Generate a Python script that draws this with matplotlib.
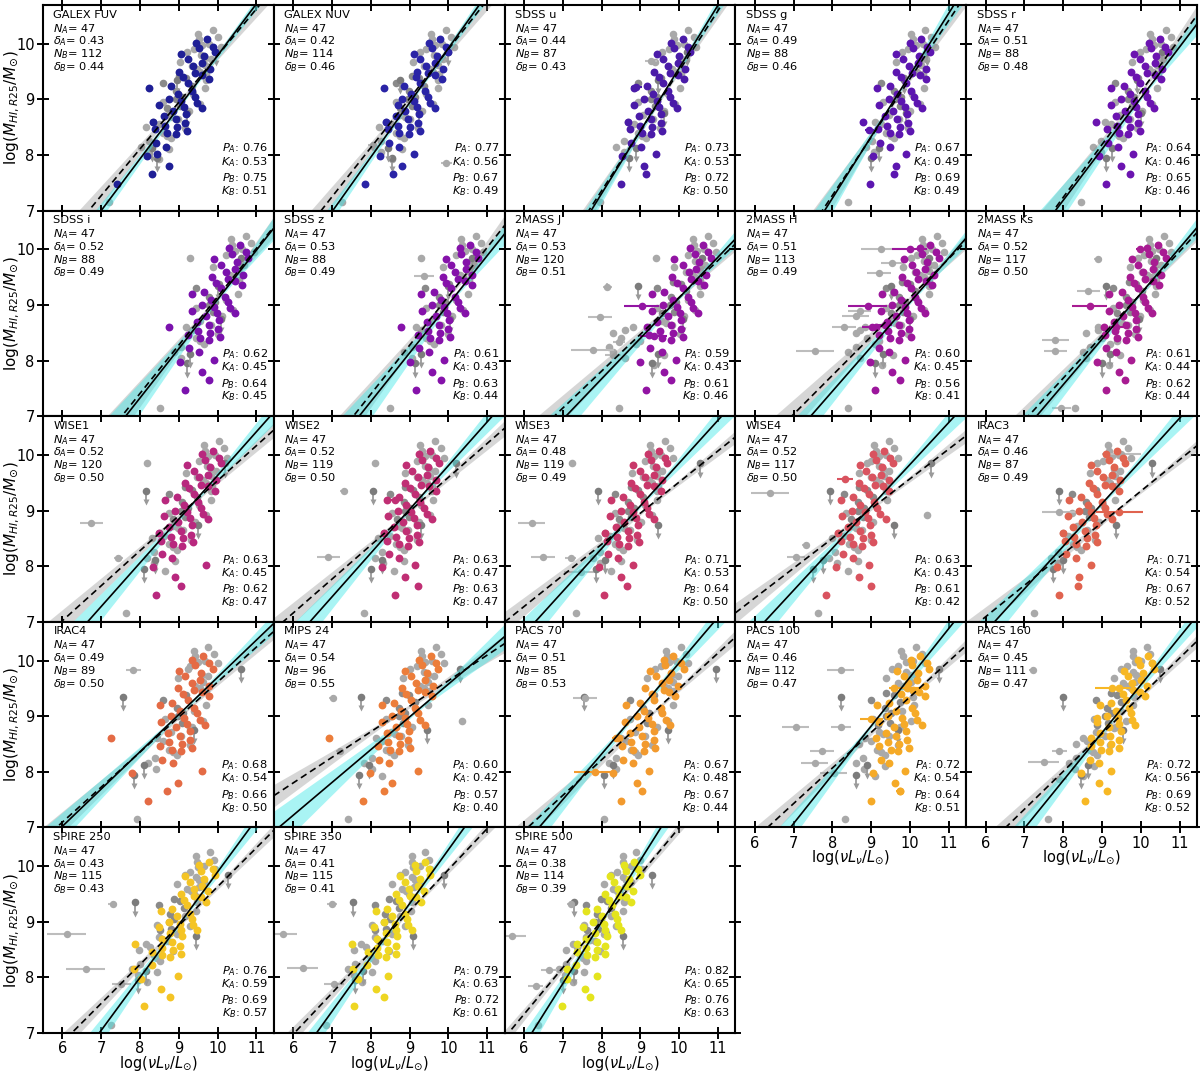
import numpy as np
import matplotlib
matplotlib.use('Agg')
import matplotlib.pyplot as plt

# ---------------- panel metadata ----------------
PANELS = ['GALEX FUV', 'GALEX NUV', 'SDSS u', 'SDSS g', 'SDSS r',
          'SDSS i', 'SDSS z', '2MASS J', '2MASS H', '2MASS Ks',
          'WISE1', 'WISE2', 'WISE3', 'WISE4', 'IRAC3',
          'IRAC4', 'MIPS 24', 'PACS 70', 'PACS 100', 'PACS 160',
          'SPIRE 250', 'SPIRE 350', 'SPIRE 500']
COLORS = ['#1f1f96', '#2a24a6', '#4a1ba8', '#5c16b0', '#6b14b0',
          '#7a12ad', '#8512aa', '#9214a3', '#9c169c', '#a81c92',
          '#b8287e', '#c02f74', '#c9386a', '#d9535f', '#e0634f',
          '#e46b45', '#ec7d3a', '#f29a2e', '#f5aa27', '#f7b825',
          '#f4c425', '#eed622', '#e4e41e']
N_A = [47] * 23
DELTA_A = [0.43, 0.42, 0.44, 0.49, 0.51, 0.52, 0.53, 0.53, 0.51, 0.52,
           0.52, 0.52, 0.48, 0.52, 0.46, 0.49, 0.54, 0.51, 0.46, 0.45,
           0.43, 0.41, 0.38]
N_B = [112, 114, 87, 88, 88, 88, 88, 120, 113, 117,
       120, 119, 119, 117, 87, 89, 96, 85, 112, 111,
       115, 115, 114]
DELTA_B = [0.44, 0.46, 0.43, 0.46, 0.48, 0.49, 0.49, 0.51, 0.49, 0.50,
           0.50, 0.50, 0.49, 0.50, 0.49, 0.50, 0.55, 0.53, 0.47, 0.47,
           0.43, 0.41, 0.39]
P_A = [0.76, 0.77, 0.73, 0.67, 0.64, 0.62, 0.61, 0.59, 0.60, 0.61,
       0.63, 0.63, 0.71, 0.63, 0.71, 0.68, 0.60, 0.67, 0.72, 0.72,
       0.76, 0.79, 0.82]
K_A = [0.53, 0.56, 0.53, 0.49, 0.46, 0.45, 0.43, 0.43, 0.45, 0.44,
       0.45, 0.47, 0.53, 0.43, 0.54, 0.54, 0.42, 0.48, 0.54, 0.56,
       0.59, 0.63, 0.65]
P_B = [0.75, 0.67, 0.72, 0.69, 0.65, 0.64, 0.63, 0.61, 0.56, 0.62,
       0.62, 0.63, 0.64, 0.61, 0.67, 0.66, 0.57, 0.67, 0.64, 0.69,
       0.69, 0.72, 0.76]
K_B = [0.51, 0.49, 0.50, 0.49, 0.46, 0.45, 0.44, 0.46, 0.41, 0.44,
       0.47, 0.47, 0.50, 0.42, 0.52, 0.50, 0.40, 0.44, 0.51, 0.52,
       0.57, 0.61, 0.63]

# fits: x where line crosses log M = 7, and slope
FIT_A_XB = [7.00, 7.02, 7.73, 7.80, 7.80, 7.63, 7.70, 7.08, 7.44, 7.31,
            6.65, 6.43, 6.29, 6.25, 6.23, 5.97, 5.63, 6.39, 6.92, 7.02,
            6.95, 6.60, 6.20]
FIT_A_M = [0.93, 0.98, 1.13, 1.11, 0.92, 0.886, 0.875, 0.73, 0.80, 0.82,
           0.786, 0.787, 0.77, 0.755, 0.768, 0.67, 0.59, 0.82, 0.877, 0.86,
           0.95, 0.97, 1.11]
FIT_B_XB = [6.68, 6.72, 7.67, 7.74, 7.75, 7.53, 7.55, 6.78, 6.95, 7.10,
            5.97, 5.74, 5.51, 5.20, 5.84, 5.85, 4.26, 6.10, 6.33, 6.52,
            6.24, 6.03, 5.60]
FIT_B_M = [0.84, 0.885, 1.08, 1.05, 0.95, 0.87, 0.88, 0.664, 0.70, 0.76,
           0.63, 0.61, 0.56, 0.536, 0.565, 0.63, 0.46, 0.64, 0.64, 0.68,
           0.70, 0.74, 0.84]
BAND_A = [0.06, 0.07, 0.10, 0.14, 0.14, 0.14, 0.14, 0.10, 0.10, 0.11,
          0.10, 0.10, 0.10, 0.10, 0.10, 0.08, 0.10, 0.10, 0.10, 0.10,
          0.10, 0.10, 0.12]
BAND_B = [0.08, 0.09, 0.09, 0.12, 0.12, 0.12, 0.12, 0.08, 0.09, 0.09,
          0.06, 0.06, 0.05, 0.05, 0.05, 0.06, 0.06, 0.06, 0.06, 0.06,
          0.05, 0.05, 0.05]

# ---------------- sample A (coloured) ----------------
Y_A = [10.08, 10.02, 9.95, 9.92, 9.85, 9.82, 9.78, 9.72, 9.65, 9.60,
       9.55, 9.50, 9.47, 9.44, 9.40, 9.36, 9.30, 9.24, 9.20, 9.15,
       9.10, 9.05, 9.00, 8.97, 8.94, 8.90, 8.86, 8.80, 8.74, 8.70,
       8.64, 8.60, 8.57, 8.53, 8.50, 8.46, 8.43, 8.40, 8.37, 8.22,
       8.15, 8.02, 7.98, 7.80, 7.65, 7.48, 8.85]

XA_FUV = [9.74, 9.45, 9.88, 9.52, 9.94, 9.07, 9.65, 9.23, 9.61, 9.37,
          9.81, 9.01, 9.42, 9.61, 9.12, 9.78, 9.23, 8.81, 8.22, 9.35,
          8.98, 9.42, 8.75, 9.07, 9.48, 8.48, 9.14, 8.84, 9.19, 8.61,
          8.92, 8.34, 9.17, 8.64, 8.96, 8.39, 9.22, 8.69, 8.93, 8.41,
          8.67, 8.45, 8.18, 8.75, 8.30, 7.42, 9.60]
XA_NUV = [9.79, 9.50, 9.93, 9.57, 9.99, 9.12, 9.70, 9.28, 9.66, 9.42,
          9.86, 9.20, 9.47, 9.66, 9.17, 9.83, 9.28, 8.86, 8.35, 9.40,
          9.03, 9.47, 8.80, 9.12, 9.53, 8.70, 9.19, 8.89, 9.24, 8.66,
          8.97, 8.39, 9.22, 8.69, 9.01, 8.44, 9.27, 8.74, 8.98, 8.46,
          8.72, 9.11, 8.23, 8.80, 8.58, 7.86, 9.65]
XA_U = [10.09, 9.80, 10.23, 9.87, 10.29, 9.42, 10.00, 9.58, 9.96, 9.72,
        10.16, 9.36, 9.77, 9.96, 9.47, 10.13, 9.58, 9.16, 8.84, 9.70,
        9.33, 9.77, 9.10, 9.42, 9.83, 8.83, 9.49, 9.19, 9.54, 8.96,
        9.27, 8.69, 9.52, 8.99, 9.31, 8.74, 9.57, 9.04, 9.28, 8.76,
        9.02, 9.41, 8.53, 9.10, 9.14, 8.50, 9.95]
XA_G = [10.28, 10.00, 10.43, 10.08, 10.52, 9.65, 10.23, 9.82, 10.21, 9.98,
        10.42, 9.63, 10.05, 10.25, 9.76, 10.42, 9.89, 9.48, 9.16, 10.03,
        9.67, 10.11, 9.45, 9.78, 10.19, 9.19, 9.86, 9.57, 9.93, 9.36,
        9.67, 8.80, 9.94, 9.41, 9.74, 9.17, 10.00, 9.48, 9.72, 9.23,
        9.49, 9.90, 9.04, 9.63, 9.60, 8.97, 10.32]
XA_R = [10.49, 10.20, 10.63, 10.27, 10.69, 9.82, 10.40, 9.98, 10.36, 10.12,
        10.56, 9.76, 10.17, 10.36, 9.87, 10.53, 9.98, 9.56, 9.24, 10.10,
        9.73, 10.17, 9.50, 9.82, 10.23, 9.23, 9.89, 9.59, 9.94, 9.36,
        9.67, 8.85, 9.92, 9.39, 9.71, 9.14, 9.97, 9.44, 9.68, 9.16,
        9.42, 9.81, 8.93, 9.50, 9.72, 9.11, 10.35]
XA_I = [10.59, 10.30, 10.73, 10.37, 10.79, 9.92, 10.50, 10.08, 10.46, 10.22,
        10.66, 9.86, 10.27, 10.46, 9.97, 10.63, 10.08, 9.66, 9.34, 10.20,
        9.83, 10.27, 9.60, 9.92, 10.33, 9.33, 9.99, 9.69, 10.04, 9.46,
        9.77, 8.75, 10.02, 9.49, 9.81, 9.24, 10.07, 9.54, 9.78, 9.26,
        9.52, 9.91, 9.03, 9.60, 9.79, 9.17, 10.45]
XA_Z = [10.55, 10.30, 10.70, 10.33, 10.76, 9.95, 10.46, 10.06, 10.45, 10.18,
        10.62, 9.85, 10.25, 10.44, 9.95, 10.60, 10.06, 9.62, 9.30, 10.18,
        9.80, 10.25, 9.58, 9.90, 10.30, 9.31, 9.97, 9.67, 10.02, 9.44,
        9.75, 8.78, 10.00, 9.47, 9.79, 9.22, 10.05, 9.52, 9.76, 9.24,
        9.50, 9.89, 9.01, 9.58, 9.81, 9.17, 10.43]
XA_J = [10.62, 10.28, 10.75, 10.40, 10.82, 9.88, 10.52, 10.10, 10.44, 10.25,
        10.68, 9.82, 10.30, 10.48, 9.95, 10.65, 10.10, 9.62, 9.30, 10.22,
        9.85, 10.30, 9.58, 9.95, 10.35, 9.30, 10.02, 9.70, 10.06, 9.44,
        9.80, 9.16, 10.05, 9.50, 9.84, 9.22, 10.10, 9.56, 9.80, 9.24,
        9.55, 9.93, 9.00, 9.62, 9.79, 9.14, 10.48]
XA_H = [10.52, 10.26, 10.66, 10.30, 10.76, 9.85, 10.44, 10.05, 10.40, 10.16,
        10.62, 9.80, 10.21, 10.42, 9.92, 10.58, 10.02, 9.60, 9.28, 10.14,
        9.77, 10.22, 9.55, 9.86, 10.28, 9.26, 9.93, 9.63, 9.98, 9.40,
        9.71, 9.12, 9.97, 9.44, 9.76, 9.20, 10.02, 9.49, 9.72, 9.20,
        9.46, 9.86, 8.98, 9.55, 9.75, 9.10, 10.40]
XA_KS = [10.44, 10.15, 10.58, 10.22, 10.64, 9.77, 10.35, 9.93, 10.31, 10.07,
         10.51, 9.71, 10.12, 10.31, 9.82, 10.48, 9.93, 9.51, 9.19, 10.05,
         9.68, 10.12, 9.45, 9.77, 10.18, 9.18, 9.84, 9.54, 9.89, 9.31,
         9.62, 9.04, 9.87, 9.34, 9.66, 9.09, 9.92, 9.39, 9.63, 9.11,
         9.37, 9.76, 8.88, 9.45, 9.60, 9.11, 10.30]
XA_W1 = [9.89, 9.60, 10.03, 9.67, 10.09, 9.22, 9.80, 9.38, 9.76, 9.52,
         9.96, 9.16, 9.57, 9.76, 9.27, 9.93, 9.38, 8.96, 8.64, 9.50,
         9.13, 9.57, 8.90, 9.22, 9.63, 8.63, 9.29, 8.99, 9.34, 8.76,
         9.07, 8.49, 9.32, 8.79, 9.11, 8.54, 9.37, 8.84, 9.08, 8.56,
         8.82, 9.70, 8.33, 8.90, 9.05, 8.42, 9.75]
XA_W2 = [9.53, 9.25, 9.68, 9.33, 9.77, 8.90, 9.48, 9.07, 9.46, 9.23,
         9.67, 8.88, 9.30, 9.50, 9.01, 9.67, 9.14, 8.73, 8.41, 9.28,
         8.92, 9.36, 8.70, 9.03, 9.44, 8.44, 9.11, 8.82, 9.18, 8.61,
         8.92, 8.35, 9.19, 8.66, 8.99, 8.42, 9.25, 8.73, 8.97, 8.48,
         8.74, 9.15, 8.29, 8.88, 9.22, 8.62, 9.57]
XA_W3 = [9.49, 9.20, 9.63, 9.27, 9.69, 8.82, 9.40, 8.98, 9.36, 9.12,
         9.56, 8.76, 9.17, 9.36, 8.87, 9.53, 8.98, 8.56, 8.24, 9.10,
         8.73, 9.17, 8.50, 8.82, 9.23, 8.23, 8.89, 8.59, 8.94, 8.36,
         8.67, 8.09, 8.92, 8.39, 8.71, 8.14, 8.97, 8.44, 8.68, 8.16,
         8.42, 8.81, 7.93, 8.50, 8.65, 8.06, 9.35]
XA_W4 = [9.33, 9.05, 9.48, 9.13, 9.57, 8.70, 9.28, 8.87, 9.26, 9.03,
         9.47, 8.68, 9.10, 9.30, 8.81, 9.47, 8.94, 8.53, 8.21, 9.08,
         8.72, 9.16, 8.50, 8.83, 9.24, 8.24, 8.91, 8.62, 8.98, 8.41,
         8.72, 8.15, 8.99, 8.46, 8.79, 8.22, 9.05, 8.53, 8.77, 8.28,
         8.54, 8.95, 8.09, 8.68, 9.00, 7.83, 9.37]
XA_IRAC3 = [9.39, 9.10, 9.53, 9.17, 9.59, 8.72, 9.30, 8.88, 9.26, 9.02,
            9.46, 8.66, 9.07, 9.26, 8.77, 9.43, 8.88, 8.46, 8.14, 9.00,
            8.63, 9.07, 8.40, 8.72, 9.13, 8.13, 8.79, 8.49, 8.84, 8.26,
            8.57, 7.99, 8.82, 8.29, 8.61, 8.04, 8.87, 8.34, 8.58, 8.06,
            8.32, 8.71, 7.83, 8.40, 8.39, 7.90, 9.25]
XA_IRAC4 = [9.63, 9.35, 9.78, 9.43, 9.87, 9.00, 9.58, 9.17, 9.56, 9.33,
            9.77, 8.98, 9.40, 9.60, 9.11, 9.77, 9.24, 8.83, 8.51, 9.38,
            9.02, 9.46, 8.80, 9.13, 9.54, 8.54, 9.21, 8.92, 9.28, 8.71,
            9.02, 7.25, 9.29, 8.76, 9.09, 8.52, 9.35, 8.83, 9.07, 8.58,
            8.84, 9.60, 7.80, 8.98, 8.70, 8.20, 9.67]
XA_MIPS = [9.54, 9.25, 9.68, 9.32, 9.74, 8.87, 9.45, 9.03, 9.41, 9.17,
           9.61, 8.81, 9.22, 9.41, 8.92, 9.58, 9.03, 8.61, 8.29, 9.15,
           8.78, 9.22, 8.55, 8.87, 9.28, 8.28, 8.94, 8.64, 8.99, 8.41,
           8.72, 6.92, 8.97, 8.44, 8.76, 8.19, 9.02, 8.49, 8.73, 8.21,
           8.47, 9.22, 7.98, 8.55, 8.35, 7.80, 9.40]
XA_PACS70 = [9.85, 9.62, 10.05, 9.64, 10.12, 9.25, 9.78, 9.40, 9.74, 9.55,
             9.98, 9.13, 9.60, 9.74, 9.30, 9.90, 9.36, 8.98, 8.62, 9.52,
             9.10, 9.55, 8.92, 9.20, 9.65, 8.60, 9.31, 8.97, 9.36, 8.74,
             9.05, 8.45, 9.34, 8.77, 9.13, 8.52, 9.39, 8.82, 9.10, 8.54,
             8.80, 9.23, 8.30, 8.92, 9.04, 8.50, 9.77]
XA_PACS100 = [10.26, 10.02, 10.45, 10.06, 10.50, 9.67, 10.21, 9.84, 10.19, 9.96,
              10.40, 9.60, 10.07, 10.23, 9.78, 10.40, 9.91, 9.46, 9.14, 10.05,
              9.65, 10.13, 9.43, 9.80, 10.17, 9.21, 9.84, 9.59, 9.91, 9.38,
              9.65, 9.12, 9.92, 9.43, 9.72, 9.19, 9.98, 9.50, 9.70, 9.25,
              9.47, 9.88, 9.06, 9.61, 9.75, 9.00, 10.30]
XA_PACS160 = [10.19, 9.93, 10.29, 9.97, 10.33, 9.56, 10.06, 9.68, 10.01, 9.78,
              10.16, 9.45, 9.80, 9.97, 9.53, 10.10, 9.61, 9.23, 8.94, 9.69,
              9.36, 9.74, 9.14, 9.42, 9.77, 8.88, 9.45, 9.18, 9.48, 8.96,
              9.22, 8.71, 9.44, 8.96, 9.24, 8.72, 9.45, 8.98, 9.18, 8.70,
              8.92, 9.24, 8.46, 8.93, 9.13, 8.55, 9.86]
XA_S250 = [9.79, 9.53, 9.89, 9.57, 9.93, 9.16, 9.66, 9.28, 9.61, 9.38,
           9.76, 9.05, 9.40, 9.57, 9.13, 9.70, 9.21, 8.83, 8.54, 9.29,
           8.96, 9.34, 8.74, 9.02, 9.37, 8.48, 9.05, 8.78, 9.08, 8.56,
           8.82, 7.87, 9.04, 8.56, 8.84, 8.32, 9.05, 8.58, 8.78, 8.30,
           7.85, 8.98, 8.03, 8.53, 8.78, 8.10, 9.46]
XA_S350 = [9.39, 9.13, 9.49, 9.17, 9.53, 8.76, 9.26, 8.88, 9.21, 8.98,
           9.36, 8.65, 9.00, 9.17, 8.73, 9.30, 8.81, 8.43, 8.14, 8.89,
           8.56, 8.94, 8.34, 8.62, 8.97, 8.08, 8.65, 8.38, 8.68, 8.16,
           8.42, 7.52, 8.64, 8.16, 8.44, 7.92, 8.65, 8.18, 8.38, 7.90,
           7.55, 8.44, 7.66, 8.13, 8.33, 7.56, 9.06]
XA_S500 = [8.84, 8.58, 8.94, 8.62, 8.98, 8.21, 8.71, 8.33, 8.66, 8.43,
           8.81, 8.10, 8.45, 8.62, 8.18, 8.75, 8.26, 7.88, 7.59, 8.34,
           8.01, 8.39, 7.79, 8.07, 8.42, 7.53, 8.10, 7.83, 8.13, 7.61,
           7.87, 7.36, 8.09, 7.61, 7.89, 7.37, 8.10, 7.63, 7.83, 7.35,
           7.10, 7.89, 7.11, 7.58, 7.71, 6.98, 8.51]

# ---------------- sample B only (grey) ----------------
Y_G = [10.25, 8.55, 9.62, 8.15, 9.95, 9.05, 8.80, 10.08, 8.40, 9.30,
       9.75, 8.95, 7.15, 9.45, 8.65, 10.12, 9.15, 8.30, 9.85, 8.72,
       9.55, 8.05, 9.98, 9.20, 8.88, 9.68, 8.48, 10.00, 9.38, 8.60,
       9.10, 9.90, 8.25, 9.50, 8.92, 9.72, 8.35, 10.18, 9.00, 8.78,
       9.42, 7.92, 9.80, 8.68, 9.25, 8.50, 9.60, 8.10, 9.35, 8.85]
G_DARK = [0, 0, 0, 0, 0, 1, 0, 0, 0, 1,
          0, 0, 0, 0, 0, 0, 1, 0, 0, 0,
          0, 0, 0, 0, 1, 0, 0, 0, 1, 0,
          0, 0, 0, 0, 0, 0, 0, 0, 1, 0,
          1, 0, 0, 0, 1, 0, 0, 0, 0, 1]

XG_FUV = [9.89, 8.48, 9.68, 8.03, 10.09, 9.08, 9.27, 9.53, 8.60, 8.59,
          9.67, 8.59, 7.20, 9.70, 8.97, 10.02, 8.93, 8.80, 9.22, 8.71,
          9.47, 8.22, 9.60, 9.68, 9.02, 9.03, 9.16, 9.78, 9.19, 8.34,
          9.37, 9.38, 8.22, 9.56, 9.55, 9.82, 8.70, 9.50, 8.92, 9.22,
          9.00, 8.49, 9.57, 8.82, 9.33, 8.15, 9.33, 8.76, 9.69, 8.70]
XG_NUV = [9.94, 8.53, 9.73, 8.08, 10.14, 9.13, 9.32, 9.58, 8.65, 8.64,
          9.72, 8.64, 7.25, 9.75, 9.02, 10.07, 8.98, 8.85, 9.27, 8.76,
          9.52, 8.27, 9.65, 9.73, 9.07, 9.08, 9.21, 9.83, 9.24, 8.39,
          9.42, 9.43, 8.27, 9.61, 9.60, 9.87, 8.75, 9.55, 8.97, 9.27,
          9.05, 8.54, 9.62, 8.87, 9.38, 8.20, 9.38, 8.81, 9.74, 8.75]
XG_U = [10.24, 8.83, 10.03, 8.38, 10.44, 9.43, 9.62, 9.88, 8.95, 8.94,
        10.02, 8.94, 7.95, 10.05, 9.32, 10.37, 9.28, 9.15, 9.57, 9.06,
        9.82, 8.57, 9.95, 10.03, 9.37, 9.38, 9.51, 10.13, 9.54, 8.69,
        9.72, 9.73, 8.57, 9.91, 9.90, 10.17, 9.05, 9.85, 9.27, 9.57]
XG_G = [10.40, 9.25, 10.28, 8.86, 10.65, 9.77, 10.00, 10.07, 9.39, 9.25,
        10.26, 9.30, 8.40, 10.34, 9.72, 10.55, 9.60, 9.60, 9.79, 9.45,
        10.08, 9.07, 10.15, 10.35, 9.74, 9.63, 9.94, 10.33, 9.84, 9.10,
        10.05, 9.94, 9.03, 10.19, 10.27, 10.41, 9.50, 10.03, 9.62, 9.95]
XG_R = [10.64, 9.23, 10.43, 8.78, 10.84, 9.83, 10.02, 10.28, 9.35, 9.34,
        10.42, 9.34, 8.45, 10.45, 9.72, 10.77, 9.68, 9.55, 9.97, 9.46,
        10.22, 8.97, 10.35, 10.43, 9.77, 9.78, 9.91, 10.53, 9.94, 9.09,
        10.12, 10.13, 8.97, 10.31, 10.30, 10.57, 9.45, 10.25, 9.67, 9.97]
XG_I = [10.74, 9.33, 10.53, 8.88, 10.94, 9.93, 10.12, 10.38, 9.45, 9.44,
        10.52, 9.44, 8.52, 10.55, 9.82, 10.87, 9.78, 9.65, 9.30, 9.56,
        10.32, 9.07, 10.45, 10.53, 9.87, 9.88, 10.01, 10.63, 10.04, 9.19,
        10.22, 10.23, 9.07, 10.41, 10.40, 10.67, 9.55, 10.35, 9.77, 10.07]
XG_Z = [10.70, 9.30, 10.52, 8.85, 10.90, 9.92, 10.10, 10.36, 9.42, 9.40,
        10.50, 9.42, 8.50, 10.52, 9.80, 10.84, 9.75, 9.62, 9.30, 9.55,
        10.30, 9.05, 10.42, 10.50, 9.85, 9.86, 9.99, 10.60, 10.02, 9.17,
        10.20, 10.20, 9.05, 10.38, 10.38, 10.65, 9.52, 10.33, 9.75, 10.05]
XG_J = [10.74, 8.60, 10.53, 8.30, 10.94, 9.93, 10.12, 10.38, 8.50, 9.44,
        10.52, 9.44, 8.45, 10.55, 9.82, 10.87, 9.78, 8.90, 9.40, 9.56,
        10.32, 8.60, 10.45, 10.53, 9.87, 9.88, 10.01, 10.63, 10.04, 8.80,
        10.22, 10.23, 8.20, 10.41, 10.40, 10.67, 9.00, 10.35, 9.77, 10.07,
        9.85, 9.34, 10.42, 9.67, 10.18, 8.30, 10.18, 9.61, 10.54, 9.55]
XG_H = [10.69, 8.70, 10.48, 8.40, 10.89, 9.88, 10.07, 10.33, 8.90, 9.39,
        10.47, 9.39, 8.40, 10.50, 9.77, 10.82, 9.73, 9.10, 10.02, 9.51,
        10.27, 8.70, 10.40, 10.48, 9.82, 9.83, 9.96, 10.58, 9.99, 8.85,
        10.17, 10.18, 8.60, 10.36, 10.35, 10.62, 9.20, 10.30, 9.72, 10.02,
        9.80, 9.29, 10.37, 9.62, 10.13, 8.60, 10.13, 9.56, 10.49, 9.50]
XG_KS = [10.59, 8.90, 10.38, 8.50, 10.79, 9.78, 9.97, 10.23, 9.00, 9.29,
         10.37, 9.29, 8.30, 10.40, 9.67, 10.72, 9.63, 9.20, 9.92, 9.41,
         10.17, 8.60, 10.30, 10.38, 9.72, 9.73, 9.86, 10.48, 9.89, 8.90,
         10.07, 10.08, 8.70, 10.26, 10.25, 10.52, 9.40, 10.20, 9.62, 9.92,
         9.70, 9.19, 10.27, 9.52, 10.03, 8.60, 10.03, 9.46, 10.39, 9.40]
XG_W1 = [10.04, 8.63, 9.83, 8.18, 10.24, 9.23, 9.42, 9.68, 8.75, 8.74,
         9.82, 8.74, 7.65, 9.85, 9.12, 10.17, 9.08, 8.95, 8.18, 8.86,
         9.62, 8.37, 9.75, 9.83, 9.17, 9.18, 9.31, 9.93, 9.34, 8.49,
         9.52, 9.53, 8.37, 9.71, 9.70, 9.97, 8.85, 9.65, 9.07, 9.37,
         9.15, 8.64, 9.72, 8.97, 9.48, 8.30, 9.48, 8.91, 9.84, 8.85]
XG_W2 = [9.65, 8.50, 9.53, 8.11, 9.90, 9.02, 9.25, 9.32, 8.64, 8.50,
         9.51, 8.55, 7.83, 9.59, 8.97, 9.80, 8.85, 8.85, 8.10, 8.70,
         9.33, 8.32, 9.40, 9.60, 8.99, 8.88, 9.19, 9.58, 9.09, 8.35,
         9.30, 9.19, 8.28, 9.44, 9.52, 9.66, 8.75, 9.28, 8.87, 9.20,
         8.89, 8.60, 9.40, 8.81, 9.24, 8.18, 9.19, 8.85, 9.58, 8.68]
XG_W3 = [9.64, 8.23, 9.43, 7.78, 9.84, 8.83, 9.02, 9.28, 8.35, 8.34,
         9.42, 8.34, 7.35, 9.45, 8.72, 9.77, 8.68, 8.55, 7.25, 8.46,
         9.22, 7.97, 9.35, 9.43, 8.77, 8.78, 8.91, 9.53, 8.94, 8.09,
         9.12, 9.13, 7.97, 9.31, 9.30, 9.57, 8.45, 9.25, 8.67, 8.97,
         8.75, 8.24, 9.32, 8.57, 9.08, 7.90, 9.08, 8.51, 9.44, 8.45]
XG_W4 = [9.45, 8.30, 9.33, 7.91, 9.70, 8.82, 9.05, 9.12, 8.44, 8.30,
         9.31, 8.35, 7.63, 9.39, 8.77, 9.60, 8.65, 8.65, 8.90, 8.50,
         9.13, 8.12, 9.20, 9.40, 8.79, 8.68, 8.99, 9.38, 8.89, 8.15,
         9.10, 8.99, 8.08, 9.24, 10.45, 9.46, 8.55, 9.08, 8.67, 9.00,
         8.69, 8.40, 9.20, 8.61, 9.04, 7.98, 8.99, 8.65, 9.38, 8.48]
XG_IRAC3 = [9.54, 8.13, 9.33, 7.68, 9.74, 8.73, 8.92, 9.18, 8.25, 8.24,
            9.32, 8.24, 7.25, 9.35, 8.62, 9.67, 8.58, 8.45, 8.87, 8.36,
            9.12, 7.87, 9.25, 9.33, 8.67, 8.68, 8.81, 9.43, 8.84, 7.99,
            9.02, 9.03, 7.87, 9.21, 9.20, 9.47, 8.35, 9.15, 8.57, 8.87]
XG_IRAC4 = [9.75, 8.60, 9.63, 8.21, 10.00, 9.12, 9.35, 9.42, 8.74, 8.60,
            9.61, 8.65, 7.93, 9.69, 9.07, 9.90, 8.95, 8.95, 9.25, 8.80,
            9.43, 8.42, 9.50, 9.70, 9.09, 8.98, 9.29, 9.68, 9.19, 8.45,
            9.40, 9.29, 8.38, 9.54, 9.62, 9.76, 8.85, 9.38, 8.97, 9.30]
XG_MIPS = [9.69, 8.28, 9.48, 7.83, 9.89, 8.88, 9.07, 9.33, 8.40, 8.39,
           9.47, 8.39, 7.40, 9.50, 8.77, 9.82, 8.73, 8.60, 9.02, 8.51,
           9.27, 8.02, 9.40, 9.48, 8.82, 8.83, 8.96, 9.58, 8.99, 8.14,
           9.17, 9.18, 8.02, 9.36, 10.35, 9.62, 8.50, 9.30, 8.72, 9.02,
           8.80, 8.29, 9.37, 8.62, 9.13]
XG_PACS70 = [10.04, 8.63, 9.83, 8.18, 10.24, 9.23, 9.42, 9.68, 8.75, 8.74,
             9.82, 8.74, 8.05, 9.85, 9.12, 10.17, 9.08, 8.95, 9.37, 8.86,
             9.62, 8.37, 9.75, 9.83, 9.17, 9.18, 9.31, 9.93, 9.34, 8.49,
             9.52, 9.53, 8.37, 9.71, 9.70, 9.97, 8.85, 9.65]
XG_PACS100 = [10.15, 9.00, 10.03, 8.61, 10.40, 9.52, 9.75, 9.82, 9.14, 9.00,
              10.01, 9.05, 8.33, 10.09, 9.47, 10.30, 9.35, 9.35, 9.54, 9.20,
              9.83, 8.82, 9.90, 10.10, 9.49, 9.38, 9.69, 10.08, 9.59, 8.85,
              9.80, 9.69, 8.78, 9.94, 10.02, 10.16, 9.25, 9.78, 9.37, 9.70,
              9.39, 9.10, 9.90, 9.31, 9.74, 8.68, 9.69, 9.35, 10.08, 9.18]
XG_PACS160 = [10.15, 8.62, 9.86, 8.15, 10.28, 9.24, 9.36, 9.81, 8.70, 8.85,
              9.88, 8.79, 7.60, 9.85, 9.07, 10.25, 9.12, 8.86, 9.50, 8.85,
              9.66, 8.31, 9.85, 9.79, 9.15, 9.30, 9.21, 10.01, 9.39, 8.51,
              9.50, 9.64, 8.34, 9.74, 9.63, 10.00, 8.78, 9.80, 9.09, 9.31,
              9.23, 8.52, 9.80, 8.94, 9.49, 8.32, 9.55, 8.79, 9.82, 8.87]
XG_S250 = [9.80, 8.27, 9.51, 7.80, 9.93, 8.89, 9.01, 9.46, 8.35, 8.50,
           9.53, 8.44, 7.25, 9.50, 8.72, 9.90, 8.77, 8.51, 9.15, 8.50,
           9.31, 7.96, 9.50, 9.44, 8.80, 8.95, 8.86, 9.66, 9.04, 8.16,
           9.15, 9.29, 7.99, 9.39, 9.28, 9.65, 8.43, 9.45, 8.74, 8.96,
           8.88, 8.17, 9.45, 8.59, 9.14, 7.97, 9.20, 8.44, 9.47, 8.52]
XG_S350 = [9.40, 7.87, 9.11, 7.40, 9.53, 8.49, 8.61, 9.06, 7.95, 8.10,
           9.13, 8.04, 6.85, 9.10, 8.32, 9.50, 8.37, 8.11, 8.75, 8.10,
           8.91, 7.56, 9.10, 9.04, 8.40, 8.55, 8.46, 9.26, 8.64, 7.76,
           8.75, 8.89, 7.59, 8.99, 8.88, 9.25, 8.03, 9.05, 8.34, 8.56,
           8.48, 7.77, 9.05, 8.19, 8.74, 7.57, 8.80, 8.04, 9.07, 8.12]
XG_S500 = [8.90, 7.37, 8.61, 6.90, 9.03, 7.99, 8.11, 8.56, 7.45, 7.60,
           8.63, 7.54, 6.35, 8.60, 7.82, 9.00, 7.87, 7.61, 8.25, 7.60,
           8.41, 7.06, 8.60, 8.54, 7.90, 8.05, 7.96, 8.76, 8.14, 7.26,
           8.25, 8.39, 7.09, 8.49, 8.38, 8.75, 7.53, 8.55, 7.84, 8.06,
           7.98, 7.27, 8.55, 7.69, 8.24, 7.07, 8.30, 7.54, 8.57, 7.62]

# upper limits in HI mass (same galaxies in every panel)
Y_UL = [9.35, 9.85, 8.75, 7.95, 8.12]
X_UL = [[8.95, 9.95, 9.20, 8.45, 8.30], [8.75, 10.00, 9.25, 8.55, 8.45],
        [9.45, 10.20, 9.60, 8.70, 8.90], [9.85, 10.45, 9.90, 9.00, 9.20],
        [9.90, 10.55, 10.00, 9.10, 9.25], [10.00, 10.60, 10.10, 9.20, 9.30],
        [10.00, 10.60, 10.05, 9.15, 9.30], [8.94, 10.60, 10.10, 9.30, 9.45],
        [9.50, 10.50, 10.00, 9.10, 9.30], [9.10, 10.40, 9.95, 9.00, 9.20],
        [8.15, 10.20, 9.50, 8.10, 8.40], [8.05, 10.20, 9.30, 8.00, 8.30],
        [7.90, 10.55, 9.45, 7.85, 8.10], [7.95, 10.55, 9.60, 7.50, 7.75],
        [7.90, 10.30, 9.35, 7.75, 8.00], [7.55, 10.60, 9.40, 7.85, 8.10],
        [7.75, 10.30, 9.45, 7.70, 7.95], [7.55, 10.95, 9.70, 8.05, 8.30],
        [8.22, 10.75, 9.70, 8.60, 8.90], [8.00, 10.50, 9.55, 8.45, 8.65],
        [7.87, 10.26, 9.45, 7.95, 8.15], [7.55, 9.90, 9.10, 7.60, 7.80],
        [7.30, 9.30, 8.55, 7.00, 7.30]]

# grey points with error bars: (x, y, xerr, yerr)
GRAY_ERR = [[], [(8.05, 8.18, 0.12, 0.05), (9.95, 7.85, 0.15, 0.05)],
            [(9.28, 9.69, 0.15, 0.05)], [], [], [],
            [(9.37, 9.52, 0.25, 0.04)],
            [(7.96, 8.79, 0.30, 0.03), (8.15, 9.33, 0.12, 0.06), (7.77, 8.19, 0.55, 0.03),
             (8.45, 8.34, 0.15, 0.05), (8.30, 8.10, 0.20, 0.04)],
            [(9.25, 10.00, 0.50, 0.03), (9.55, 9.75, 0.30, 0.03), (9.20, 9.57, 0.30, 0.03),
             (8.60, 8.80, 0.35, 0.03), (7.55, 8.18, 0.50, 0.03), (8.30, 8.60, 0.30, 0.03),
             (8.70, 8.90, 0.30, 0.03)],
            [(7.80, 8.38, 0.35, 0.03), (7.80, 8.17, 0.30, 0.03), (8.65, 9.25, 0.30, 0.03),
             (8.90, 9.82, 0.10, 0.05), (7.95, 7.15, 0.25, 0.03)],
            [(6.75, 8.77, 0.30, 0.03), (7.44, 8.15, 0.12, 0.05)],
            [(6.91, 8.17, 0.30, 0.03), (7.30, 9.35, 0.10, 0.05)],
            [(6.20, 8.78, 0.35, 0.03), (6.49, 8.17, 0.30, 0.03), (7.47, 7.90, 0.45, 0.03),
             (7.20, 8.15, 0.15, 0.04)],
            [(6.39, 9.32, 0.48, 0.03), (7.07, 8.17, 0.23, 0.03), (7.31, 8.38, 0.10, 0.05)],
            [(9.50, 10.02, 0.50, 0.03), (7.90, 8.97, 0.45, 0.03)],
            [(7.83, 9.84, 0.20, 0.03)],
            [(7.02, 9.33, 0.10, 0.05), (7.21, 8.38, 0.10, 0.05)],
            [(7.57, 9.33, 0.30, 0.03)],
            [(7.05, 8.80, 0.35, 0.03), (8.22, 8.80, 0.25, 0.03), (7.73, 8.38, 0.30, 0.03),
             (7.54, 8.16, 0.35, 0.03), (8.03, 7.98, 0.35, 0.03), (8.22, 9.83, 0.35, 0.03)],
            [(7.21, 9.84, 0.10, 0.04), (7.90, 8.38, 0.20, 0.03), (7.50, 8.17, 0.40, 0.03),
             (7.90, 7.88, 0.20, 0.03)],
            [(6.11, 8.78, 0.50, 0.03), (6.60, 8.16, 0.50, 0.03), (7.30, 9.32, 0.12, 0.06),
             (7.52, 7.88, 0.25, 0.03)],
            [(5.75, 8.79, 0.35, 0.03), (6.25, 8.17, 0.40, 0.03), (7.00, 9.32, 0.12, 0.06),
             (7.05, 7.88, 0.25, 0.03)],
            [(5.70, 8.74, 0.35, 0.03), (6.64, 8.14, 0.20, 0.03), (6.30, 7.84, 0.20, 0.03),
             (7.20, 9.32, 0.10, 0.05)]]

# coloured points with error bars: (x, y, xerr, yerr)
COL_ERR = [[], [], [(8.90, 9.22, 0.15, 0.05)], [(8.95, 8.45, 0.12, 0.05)], [], [], [],
           [(9.04, 8.98, 0.45, 0.03), (9.34, 8.45, 0.35, 0.03)],
           [(9.99, 10.01, 0.45, 0.03), (8.91, 8.98, 0.50, 0.03), (9.01, 8.61, 0.25, 0.03),
            (9.35, 8.65, 0.20, 0.03)],
           [(8.68, 8.98, 0.45, 0.03), (9.37, 8.60, 0.20, 0.03), (9.97, 10.00, 0.10, 0.04)],
           [], [(8.62, 9.20, 0.20, 0.03)], [], [(8.32, 9.57, 0.20, 0.03)],
           [(9.45, 8.97, 0.60, 0.03)], [], [],
           [(7.82, 8.00, 0.52, 0.03), (8.36, 8.60, 0.10, 0.04)],
           [(9.92, 9.50, 0.45, 0.03), (9.00, 8.95, 0.30, 0.03), (9.75, 7.65, 0.10, 0.04)],
           [(9.27, 9.50, 0.45, 0.03), (8.88, 8.97, 0.10, 0.03)],
           [], [], []]

XA = [XA_FUV, XA_NUV, XA_U, XA_G, XA_R, XA_I, XA_Z, XA_J, XA_H, XA_KS,
      XA_W1, XA_W2, XA_W3, XA_W4, XA_IRAC3, XA_IRAC4, XA_MIPS, XA_PACS70,
      XA_PACS100, XA_PACS160, XA_S250, XA_S350, XA_S500]
XG = [XG_FUV, XG_NUV, XG_U, XG_G, XG_R, XG_I, XG_Z, XG_J, XG_H, XG_KS,
      XG_W1, XG_W2, XG_W3, XG_W4, XG_IRAC3, XG_IRAC4, XG_MIPS, XG_PACS70,
      XG_PACS100, XG_PACS160, XG_S250, XG_S350, XG_S500]

# ---------------- drawing ----------------
fig = plt.figure(figsize=(12, 10.72), dpi=100)
L0 = 43 / 1200
PW = 230.8 / 1200
PH = 205.6 / 1072
TOP = 1 - 5 / 1072
XMIN, XMAX, YMIN, YMAX = 5.5, 11.45, 7.0, 10.7
LIGHT = '#a9a9a9'
DARK = '#8a8a8a'
FS = 8.2

for p, name in enumerate(PANELS):
    r, c = divmod(p, 5)
    ax = fig.add_axes([L0 + c * PW, TOP - (r + 1) * PH, PW, PH])
    xs = np.linspace(XMIN, XMAX, 300)

    # grey points
    xg = np.array(XG[p])
    n = len(xg)
    yg = np.array(Y_G[:n])
    dk = np.array(G_DARK[:n], bool)
    ax.scatter(xg[~dk], yg[~dk], s=30, color=LIGHT, lw=0, zorder=2)
    ax.scatter(xg[dk], yg[dk], s=30, color=DARK, lw=0, zorder=2)
    for (x, y, xe, ye) in GRAY_ERR[p]:
        ax.errorbar(x, y, xerr=xe, yerr=ye, fmt='o', ms=5.3, mfc=LIGHT, mec='none',
                    ecolor='#bdbdbd', elinewidth=1.5, capsize=0, zorder=2)
    for x, y in zip(X_UL[p], Y_UL):
        ax.plot([x, x], [y, y - 0.2], color='#9a9a9a', lw=1.3, zorder=2)
        ax.plot([x], [y - 0.2], marker='v', ms=4.5, color='#9a9a9a', mec='none', zorder=2)
        ax.scatter([x], [y], s=30, color='#7c7c7c', lw=0, zorder=2)

    # confidence bands (semi-transparent, above grey points)
    for xb, m, dm, fc, al in ((FIT_B_XB[p], FIT_B_M[p], BAND_B[p], '#8c8c8c', 0.35),
                              (FIT_A_XB[p], FIT_A_M[p], BAND_A[p], '#40e8e8', 0.45)):
        x0 = xb + 2.1 / m
        yl = 7 + m * (xs - xb)
        hw = np.sqrt(0.03 ** 2 + (dm * (xs - x0)) ** 2)
        ax.fill_between(xs, yl - hw, yl + hw, color=fc, alpha=al, lw=0, zorder=2.5)

    # coloured points
    ax.scatter(XA[p], Y_A, s=32, color=COLORS[p], lw=0, zorder=3)
    for (x, y, xe, ye) in COL_ERR[p]:
        ax.errorbar(x, y, xerr=xe, yerr=ye, fmt='o', ms=5.5, mfc=COLORS[p], mec='none',
                    ecolor=COLORS[p], elinewidth=1.5, capsize=0, zorder=3)

    # fit lines
    ax.plot(xs, 7 + FIT_A_M[p] * (xs - FIT_A_XB[p]), color='k', lw=1.2, zorder=5)
    ax.plot(xs, 7 + FIT_B_M[p] * (xs - FIT_B_XB[p]), color='k', lw=1.2,
            ls=(0, (4, 2.5)), zorder=5)

    # texts
    ax.text(0.045, 0.978, name, transform=ax.transAxes, ha='left', va='top', fontsize=FS)
    left_lines = [r'$N_A$= %d' % N_A[p], r'$\delta_A$= %.2f' % DELTA_A[p],
                  r'$N_B$= %d' % N_B[p], r'$\delta_B$= %.2f' % DELTA_B[p]]
    for yy, t in zip([0.885, 0.823, 0.761, 0.699], left_lines):
        ax.text(0.045, yy, t, transform=ax.transAxes, ha='left', va='center', fontsize=FS)
    right_lines = [r'$P_A$: %.2f' % P_A[p], r'$K_A$: %.2f' % K_A[p],
                   r'$P_B$: %.2f' % P_B[p], r'$K_B$: %.2f' % K_B[p]]
    for yy, t in zip([0.302, 0.238, 0.158, 0.096], right_lines):
        ax.text(0.975, yy, t, transform=ax.transAxes, ha='right', va='center', fontsize=FS)

    ax.set_xlim(XMIN, XMAX)
    ax.set_ylim(YMIN, YMAX)
    ax.set_xticks([6, 7, 8, 9, 10, 11])
    ax.set_yticks([7, 8, 9, 10])
    ax.tick_params(direction='inout', length=9, width=1.4, top=True, right=True,
                   labelsize=10.5, labelbottom=(p >= 18), labelleft=(c == 0))
    ax.tick_params(axis='y', pad=1.5)
    ax.tick_params(axis='x', pad=1.5)
    for sp in ax.spines.values():
        sp.set_linewidth(1.5)
    if c == 0:
        ax.set_ylabel(r'$\log(M_{HI,R25}/M_{\odot})$', fontsize=11)
        ax.yaxis.set_label_coords(-0.092, 0.5)
    if p >= 18:
        ax.set_xlabel(r'$\log(\nu L_{\nu}/L_{\odot})$', fontsize=10.5)
        ax.xaxis.set_label_coords(0.5, -0.102)

fig.savefig('out.png', dpi=100)
